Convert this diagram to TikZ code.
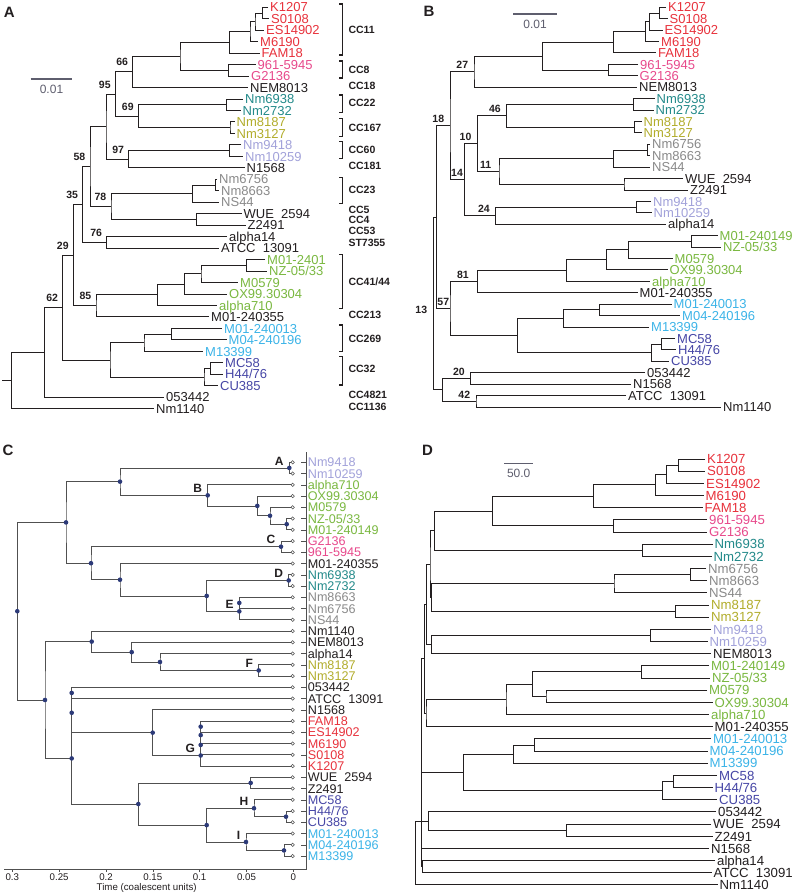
\documentclass[tikz,border=0pt]{standalone}
\usepackage{fontspec}
\setmainfont{Liberation Sans}
\usetikzlibrary{calc}
\definecolor{cR}{HTML}{E8323C}
\definecolor{cP}{HTML}{E84A8C}
\definecolor{cT}{HTML}{238A8A}
\definecolor{cO}{HTML}{B2AD2C}
\definecolor{cL}{HTML}{A2A2DA}
\definecolor{cG}{HTML}{8A8A8A}
\definecolor{cN}{HTML}{7AB840}
\definecolor{cB}{HTML}{3CB4E8}
\definecolor{cD}{HTML}{4646A6}
\definecolor{cK}{HTML}{231F20}
\definecolor{navy}{HTML}{2C3A78}
\definecolor{sgray}{HTML}{5E5E6E}
\definecolor{cgr}{HTML}{505050}
\newcommand\TLeaf[5]{\coordinate (#1) at (#2,{\yb+\ys*#3});\node[lab,text=#4] (#1t) at (#1) {#5};}
\newcommand\TNode[4]{\path let \p1=($(#3)!0.5!(#4)$) in coordinate (#1) at (#2pt,\y1);\draw[br] (#3) -| (#1) |- (#4);}
\newcommand\TBoot[3][]{\node[bs,#1] (#2b) at (#2) {#3};}
\newcommand\TBrk[2]{\draw[brk] (339.3,#1) -- (342.7,#1) -- (342.7,#2) -- (339.3,#2);}
\newcommand\TCC[3]{\node[ccl] (#1) at (348.3,#2) {#3};}
\begin{document}
\begin{tikzpicture}[x=1pt,y=-1pt,
  br/.style={line width=1pt,cK},
  lab/.style={anchor=west,inner sep=0pt,xshift=2pt,text height=9.3pt,text depth=0pt,font=\fontsize{13}{13}\selectfont},
  bsbase/.style={anchor=south east,inner sep=0pt,font=\fontsize{10.5}{10.5}\selectfont\bfseries,text=cK},
  bs/.style={bsbase,xshift=-4.5pt,yshift=5.7pt},
  ccl/.style={anchor=west,inner sep=0pt,text height=7.5pt,text depth=0pt,font=\fontsize{10.5}{10.5}\selectfont\bfseries,text=cK},
  brk/.style={line width=1.2pt,cK},
  pl/.style={font=\fontsize{15}{15}\selectfont\bfseries,inner sep=0pt,text=cK},
  sb/.style={line width=1.1pt,sgray},
  sbt/.style={font=\fontsize{12}{12}\selectfont,text=sgray,inner sep=0pt}]
\fill[white] (0,0) rectangle (800,896);
\useasboundingbox (0,0) rectangle (800,896);
% ================= Panel A =================
\begin{scope}
\def\yb{7.3}\def\ys{11.47}
\node[pl] (PA) at (9.2,12) {A};
\TLeaf{A0}{268}{0}{cR}{K1207}
\TLeaf{A1}{269}{1}{cR}{S0108}
\TLeaf{A2}{264}{2}{cR}{ES14902}
\TLeaf{A3}{258}{3}{cR}{M6190}
\TLeaf{A4}{259.5}{4}{cR}{FAM18}
\TLeaf{A5}{255.5}{5}{cP}{961-5945}
\TLeaf{A6}{249}{6}{cP}{G2136}
\TLeaf{A7}{248}{7}{cK}{NEM8013}
\TLeaf{A8}{243}{8}{cT}{Nm6938}
\TLeaf{A9}{240.5}{9}{cT}{Nm2732}
\TLeaf{A10}{234.5}{10}{cO}{Nm8187}
\TLeaf{A11}{234.5}{11}{cO}{Nm3127}
\TLeaf{A12}{241}{12}{cL}{Nm9418}
\TLeaf{A13}{243}{13}{cL}{Nm10259}
\TLeaf{A14}{244.5}{14}{cK}{N1568}
\TLeaf{A15}{217}{15}{cG}{Nm6756}
\TLeaf{A16}{219}{16}{cG}{Nm8663}
\TLeaf{A17}{219}{17}{cG}{NS44}
\TLeaf{A18}{241.5}{18}{cK}{WUE~~2594}
\TLeaf{A19}{245.5}{19}{cK}{Z2491}
\TLeaf{A20}{227}{20}{cK}{alpha14}
\TLeaf{A21}{219}{21}{cK}{ATCC~~13091}
\TLeaf{A22}{265}{22}{cN}{M01-2401}
\TLeaf{A23}{267}{23}{cN}{NZ-05/33}
\TLeaf{A24}{238}{24}{cN}{M0579}
\TLeaf{A25}{227}{25}{cN}{OX99.30304}
\TLeaf{A26}{217}{26}{cN}{alpha710}
\TLeaf{A27}{209}{27}{cK}{M01-240355}
\TLeaf{A28}{222}{28}{cB}{M01-240013}
\TLeaf{A29}{226.5}{29}{cB}{M04-240196}
\TLeaf{A30}{203}{30}{cB}{M13399}
\TLeaf{A31}{223}{31}{cD}{MC58}
\TLeaf{A32}{223}{32}{cD}{H44/76}
\TLeaf{A33}{218}{33}{cD}{CU385}
\TLeaf{A34}{164}{34}{cK}{053442}
\TLeaf{A35}{154}{35}{cK}{Nm1140}
\TNode{aK}{262.7}{A0}{A1}
\TNode{aKE}{255}{aK}{A2}
\TNode{aKM}{250}{aKE}{A3}
\TNode{aC11}{229.3}{aKM}{A4}
\TNode{aC8}{228.7}{A5}{A6}
\TNode{aHi}{180}{aC11}{aC8}
\TNode{aN66}{132.7}{aHi}{A7}
\TNode{aC22}{226.7}{A8}{A9}
\TNode{aC167}{230}{A10}{A11}
\TNode{aN69}{138.3}{aC22}{aC167}
\TNode{aN95}{115.3}{aN66}{aN69}
\TNode{aC60}{229.3}{A12}{A13}
\TNode{aN97}{128.7}{aC60}{A14}
\TNode{aU}{106}{aN95}{aN97}
\TNode{aC23i}{215.5}{A15}{A16}
\TNode{aC23}{192.3}{aC23i}{A17}
\TNode{aWZ}{196.7}{A18}{A19}
\TNode{aN78}{111}{aC23}{aWZ}
\TNode{aN58}{90}{aU}{aN78}
\TNode{aN76}{106.7}{A20}{A21}
\TNode{aN35}{82.7}{aN58}{aN76}
\TNode{aG1}{246.7}{A22}{A23}
\TNode{aG2}{201}{aG1}{A24}
\TNode{aG3}{184.3}{aG2}{A25}
\TNode{aG4}{157.3}{aG3}{A26}
\TNode{aN85}{96}{aG4}{A27}
\TNode{aN29}{73.3}{aN35}{aN85}
\TNode{aC269i}{171.7}{A28}{A29}
\TNode{aC269}{144}{aC269i}{A30}
\TNode{aC32i}{210.7}{A31}{A32}
\TNode{aC32}{204}{aC32i}{A33}
\TNode{aM}{110}{aC269}{aC32}
\TNode{aN62}{62.7}{aN29}{aM}
\TNode{aO}{44.3}{aN62}{A34}
\TNode{aR}{11.7}{aO}{A35}
\path (aR) ++(-10,0) coordinate (aS);
\draw[br] (aR) -- (aS);
\TBoot{aN66}{66}\TBoot{aN69}{69}\TBoot{aN95}{95}\TBoot{aN97}{97}
\TBoot{aN58}{58}\TBoot{aN78}{78}\TBoot{aN35}{35}\TBoot{aN76}{76}
\TBoot{aN85}{85}\TBoot{aN29}{29}\TBoot{aN62}{62}
\draw[sb] (30.7,79) coordinate (asL) -- (72.3,79) coordinate (asR);
\node[sbt] (asT) at (51.5,89.5) {0.01};
\TBrk{4}{55}\TBrk{61}{78}\TBrk{95}{112.7}\TBrk{118.3}{136.7}\TBrk{141.7}{158.3}
\TBrk{177.7}{203.3}\TBrk{254.3}{308.3}\TBrk{325}{351.7}\TBrk{356.7}{385}
\TCC{k1}{30}{CC11}\TCC{k2}{69.3}{CC8}\TCC{k3}{85.7}{CC18}\TCC{k4}{102.7}{CC22}
\TCC{k5}{127.3}{CC167}\TCC{k6}{149.3}{CC60}\TCC{k7}{165.7}{CC181}\TCC{k8}{190}{CC23}
\TCC{k9}{209.3}{CC5}\TCC{k10}{220}{CC4}\TCC{k11}{231}{CC53}\TCC{k12}{242.3}{ST7355}
\TCC{k13}{281.7}{CC41/44}\TCC{k14}{315}{CC213}\TCC{k15}{338.3}{CC269}\TCC{k16}{369}{CC32}
\TCC{k17}{394.3}{CC4821}\TCC{k18}{406.7}{CC1136}
\end{scope}
% ================= Panel B =================
\begin{scope}[bs/.style={bsbase,xshift=-5.7pt,yshift=3pt}]
\def\yb{7.3}\def\ys{11.42}
\node[pl] (PB) at (429,11.7) {B};
\TLeaf{B0}{666}{0}{cR}{K1207}
\TLeaf{B1}{667.5}{1}{cR}{S0108}
\TLeaf{B2}{662.5}{2}{cR}{ES14902}
\TLeaf{B3}{659}{3}{cR}{M6190}
\TLeaf{B4}{656}{4}{cR}{FAM18}
\TLeaf{B5}{638}{5}{cP}{961-5945}
\TLeaf{B6}{637.5}{6}{cP}{G2136}
\TLeaf{B7}{637}{7}{cK}{NEM8013}
\TLeaf{B8}{654.5}{8}{cT}{Nm6938}
\TLeaf{B9}{653.5}{9}{cT}{Nm2732}
\TLeaf{B10}{641.5}{10}{cO}{Nm8187}
\TLeaf{B11}{641.5}{11}{cO}{Nm3127}
\TLeaf{B12}{650}{12}{cG}{Nm6756}
\TLeaf{B13}{650}{13}{cG}{Nm8663}
\TLeaf{B14}{650}{14}{cG}{NS44}
\TLeaf{B15}{683}{15}{cK}{WUE~~2594}
\TLeaf{B16}{688}{16}{cK}{Z2491}
\TLeaf{B17}{651}{17}{cL}{Nm9418}
\TLeaf{B18}{651.5}{18}{cL}{Nm10259}
\TLeaf{B19}{666}{19}{cK}{alpha14}
\TLeaf{B20}{717.5}{20}{cN}{M01-240149}
\TLeaf{B21}{721}{21}{cN}{NZ-05/33}
\TLeaf{B22}{672.5}{22}{cN}{M0579}
\TLeaf{B23}{667.5}{23}{cN}{OX99.30304}
\TLeaf{B24}{650}{24}{cN}{alpha710}
\TLeaf{B25}{637.5}{25}{cK}{M01-240355}
\TLeaf{B26}{671.5}{26}{cB}{M01-240013}
\TLeaf{B27}{680}{27}{cB}{M04-240196}
\TLeaf{B28}{649}{28}{cB}{M13399}
\TLeaf{B29}{675}{29}{cD}{MC58}
\TLeaf{B30}{676}{30}{cD}{H44/76}
\TLeaf{B31}{669}{31}{cD}{CU385}
\TLeaf{B32}{645}{32}{cK}{053442}
\TLeaf{B33}{631}{33}{cK}{N1568}
\TLeaf{B34}{626}{34}{cK}{ATCC~~13091}
\TLeaf{B35}{721}{35}{cK}{Nm1140}
\TNode{bK}{659.3}{B0}{B1}
\TNode{bKE}{649.3}{bK}{B2}
\TNode{bKM}{645}{bKE}{B3}
\TNode{bC11}{613.3}{bKM}{B4}
\TNode{bC8}{608.3}{B5}{B6}
\TNode{bHi}{542.7}{bC11}{bC8}
\TNode{bN27}{474}{bHi}{B7}
\TNode{bC22}{633.3}{B8}{B9}
\TNode{bC167}{634.3}{B10}{B11}
\TNode{bN46}{506.7}{bC22}{bC167}
\TNode{bC23i}{647.7}{B12}{B13}
\TNode{bC23}{613.3}{bC23i}{B14}
\TNode{bWZ}{624}{B15}{B16}
\TNode{bN11}{499}{bC23}{bWZ}
\TNode{bN10}{477.3}{bN46}{bN11}
\TNode{bC60}{636}{B17}{B18}
\TNode{bN24}{495.7}{bC60}{B19}
\TNode{bN14}{464.3}{bN10}{bN24}
\TNode{bN18}{450}{bN27}{bN14}
\TNode{bG1}{691.7}{B20}{B21}
\TNode{bG2}{628.3}{bG1}{B22}
\TNode{bG3}{606.7}{bG2}{B23}
\TNode{bG4}{566.7}{bG3}{B24}
\TNode{bN81}{477.7}{bG4}{B25}
\TNode{bC269i}{599.3}{B26}{B27}
\TNode{bC269}{563.3}{bC269i}{B28}
\TNode{bC32i}{661}{B29}{B30}
\TNode{bC32}{651.7}{bC32i}{B31}
\TNode{bM}{517.7}{bC269}{bC32}
\TNode{bN57}{450}{bN81}{bM}
\TNode{bX}{436.7}{bN18}{bN57}
\TNode{bN20}{470.7}{B32}{B33}
\TNode{bN42}{476}{B34}{B35}
\TNode{bO}{442.3}{bN20}{bN42}
\TNode{bR}{433.3}{bX}{bO}
\TBoot{bN27}{27}\TBoot{bN46}{46}\TBoot{bN10}{10}\TBoot[xshift=-2pt]{bN11}{11}
\TBoot{bN24}{24}\TBoot[xshift=4.5pt]{bN14}{14}\TBoot{bN18}{18}\TBoot[xshift=-3pt]{bN81}{81}
\TBoot[xshift=5pt]{bN57}{57}\TBoot{bN20}{20}\TBoot{bN42}{42}
\node[bsbase,anchor=east] (bRb) at ([xshift=-6pt,yshift=-6.4pt]bR) {13};
\draw[sb] (513.3,14) coordinate (bsL) -- (556.7,14) coordinate (bsR);
\node[sbt] (bsT) at (535,24) {0.01};
\end{scope}
% ================= Panel C =================
\begin{scope}[br/.style={line width=0.75pt,cgr},
  lab/.style={anchor=west,inner sep=0pt,xshift=15pt,text height=9pt,text depth=0pt,font=\fontsize{12.6}{12.6}\selectfont},
  cl/.style={anchor=south east,inner sep=0pt,xshift=-5.5pt,yshift=2.5pt,font=\fontsize{12}{12}\selectfont\bfseries,text=cK},
  tk/.style={font=\fontsize{9.7}{9.7}\selectfont,text=cK,inner sep=0pt}]
\def\yb{462.3}\def\ys{11.25}
\node[pl] (PC) at (8,450.5) {C};
\TLeaf{C0}{292.7}{0}{cL}{Nm9418}
\TLeaf{C1}{292.7}{1}{cL}{Nm10259}
\TLeaf{C2}{292.7}{2}{cN}{alpha710}
\TLeaf{C3}{292.7}{3}{cN}{OX99.30304}
\TLeaf{C4}{292.7}{4}{cN}{M0579}
\TLeaf{C5}{292.7}{5}{cN}{NZ-05/33}
\TLeaf{C6}{292.7}{6}{cN}{M01-240149}
\TLeaf{C7}{292.7}{7}{cP}{G2136}
\TLeaf{C8}{292.7}{8}{cP}{961-5945}
\TLeaf{C9}{292.7}{9}{cK}{M01-240355}
\TLeaf{C10}{292.7}{10}{cT}{Nm6938}
\TLeaf{C11}{292.7}{11}{cT}{Nm2732}
\TLeaf{C12}{292.7}{12}{cG}{Nm8663}
\TLeaf{C13}{292.7}{13}{cG}{Nm6756}
\TLeaf{C14}{292.7}{14}{cG}{NS44}
\TLeaf{C15}{292.7}{15}{cK}{Nm1140}
\TLeaf{C16}{292.7}{16}{cK}{NEM8013}
\TLeaf{C17}{292.7}{17}{cK}{alpha14}
\TLeaf{C18}{292.7}{18}{cO}{Nm8187}
\TLeaf{C19}{292.7}{19}{cO}{Nm3127}
\TLeaf{C20}{292.7}{20}{cK}{053442}
\TLeaf{C21}{292.7}{21}{cK}{ATCC~~13091}
\TLeaf{C22}{292.7}{22}{cK}{N1568}
\TLeaf{C23}{292.7}{23}{cR}{FAM18}
\TLeaf{C24}{292.7}{24}{cR}{ES14902}
\TLeaf{C25}{292.7}{25}{cR}{M6190}
\TLeaf{C26}{292.7}{26}{cR}{S0108}
\TLeaf{C27}{292.7}{27}{cR}{K1207}
\TLeaf{C28}{292.7}{28}{cK}{WUE~~2594}
\TLeaf{C29}{292.7}{29}{cK}{Z2491}
\TLeaf{C30}{292.7}{30}{cD}{MC58}
\TLeaf{C31}{292.7}{31}{cD}{H44/76}
\TLeaf{C32}{292.7}{32}{cD}{CU385}
\TLeaf{C33}{292.7}{33}{cB}{M01-240013}
\TLeaf{C34}{292.7}{34}{cB}{M04-240196}
\TLeaf{C35}{292.7}{35}{cB}{M13399}
\TNode{cA}{289.3}{C0}{C1}
\TNode{cNZ}{286.7}{C5}{C6}
\TNode{cM0}{270}{C4}{cNZ}
\TNode{cOX}{257.3}{C3}{cM0}
\TNode{cB}{207.7}{C2}{cOX}
\TNode{cAB}{120}{cA}{cB}
\TNode{cC}{281}{C7}{C8}
\TNode{cD}{288.7}{C10}{C11}
\TNode{cEi}{239.3}{C12}{C13}
\TNode{cE}{239.3}{cEi}{C14}
\TNode{cDE}{206.7}{cD}{cE}
\TNode{cMD}{120}{C9}{cDE}
\TNode{cCM}{91}{cC}{cMD}
\TNode{cTop}{66}{cAB}{cCM}
\TNode{cF}{258.7}{C18}{C19}
\TNode{cF2}{160}{C17}{cF}
\TNode{cF3}{131.7}{C16}{cF2}
\TNode{cF4}{91.7}{C15}{cF3}
\TNode{c05}{71.7}{C20}{C21}
\TNode{cGa}{200.7}{C23}{C24}
\TNode{cGb}{200.7}{cGa}{C25}
\TNode{cGc}{200.7}{cGb}{C26}
\TNode{cG}{200.7}{cGc}{C27}
\TNode{cNG}{152.7}{C22}{cG}
\TNode{c05G}{71.7}{c05}{cNG}
\TNode{cWZ}{250.7}{C28}{C29}
\TNode{cHi}{286}{C31}{C32}
\TNode{cH}{254}{C30}{cHi}
\TNode{cIi}{284}{C34}{C35}
\TNode{cI}{246}{C33}{cIi}
\TNode{cHI}{206.7}{cH}{cI}
\TNode{cWHI}{138.3}{cWZ}{cHI}
\TNode{cLow}{71.7}{c05G}{cWHI}
\TNode{cBot}{45}{cF4}{cLow}
\TNode{cR}{17.3}{cTop}{cBot}
\foreach \nn in {cA,cNZ,cM0,cOX,cB,cAB,cC,cD,cEi,cE,cDE,cMD,cCM,cTop,cF,cF2,cF3,cF4,c05,cGa,cGb,cGc,cG,cNG,c05G,cWZ,cHi,cH,cIi,cI,cHI,cWHI,cLow,cBot,cR}
  \fill[navy] (\nn) circle (2.3);
\foreach \ii in {0,...,35}{
  \filldraw[fill=white,draw=cgr,line width=0.55pt] (C\ii) circle (1.7);
  \path (C\ii) ++(8.7,0) coordinate (Ck\ii) ++(4.6,0) coordinate (Cm\ii);
  \draw[cgr,line width=0.6pt] (Ck\ii) -- (Cm\ii);
}
\node[cl] (cAl) at (cA) {A};\node[cl] (cBl) at (cB) {B};\node[cl] (cCl) at (cC) {C};
\node[cl] (cDl) at (cD) {D};\node[cl] (cEl) at (cE) {E};\node[cl] (cFl) at (cF) {F};
\node[cl] (cGl) at (cG) {G};\node[cl] (cHl) at (cH) {H};\node[cl] (cIl) at (cI) {I};
\draw[cgr,line width=0.7pt] (306,452) coordinate (cx1) -- (306,869.3) coordinate (cx0) -- (4,869.3) coordinate (cx2);
\foreach \xx/\ll in {293.3/0,246.5/0.05,199.6/0.1,152.8/0.15,106/0.2,59.1/0.25,12.3/0.3}{
  \draw[cgr,line width=0.6pt] (\xx,869.3) -- (\xx,872);
  \node[tk,anchor=north] at (\xx,873.5) {\ll};
}
\node[tk] (ctitle) at (146.7,888.3) {Time (coalescent units)};
\end{scope}
% ================= Panel D =================
\begin{scope}[lab/.style={anchor=west,inner sep=0pt,xshift=2pt,text height=9.45pt,text depth=0pt,font=\fontsize{13.2}{13.2}\selectfont}]
\def\yb{459}\def\ys{12.17}
\node[pl] (PD) at (427.5,450.5) {D};
\TLeaf{D0}{705}{0}{cR}{K1207}
\TLeaf{D1}{705}{1}{cR}{S0108}
\TLeaf{D2}{704}{2}{cR}{ES14902}
\TLeaf{D3}{703.5}{3}{cR}{M6190}
\TLeaf{D4}{702.5}{4}{cR}{FAM18}
\TLeaf{D5}{707}{5}{cP}{961-5945}
\TLeaf{D6}{707}{6}{cP}{G2136}
\TLeaf{D7}{712.5}{7}{cT}{Nm6938}
\TLeaf{D8}{711.5}{8}{cT}{Nm2732}
\TLeaf{D9}{706}{9}{cG}{Nm6756}
\TLeaf{D10}{707}{10}{cG}{Nm8663}
\TLeaf{D11}{707}{11}{cG}{NS44}
\TLeaf{D12}{709}{12}{cO}{Nm8187}
\TLeaf{D13}{709}{13}{cO}{Nm3127}
\TLeaf{D14}{711}{14}{cL}{Nm9418}
\TLeaf{D15}{707.5}{15}{cL}{Nm10259}
\TLeaf{D16}{711}{16}{cK}{NEM8013}
\TLeaf{D17}{709}{17}{cN}{M01-240149}
\TLeaf{D18}{710}{18}{cN}{NZ-05/33}
\TLeaf{D19}{707}{19}{cN}{M0579}
\TLeaf{D20}{712.5}{20}{cN}{OX99.30304}
\TLeaf{D21}{709}{21}{cN}{alpha710}
\TLeaf{D22}{712.5}{22}{cK}{M01-240355}
\TLeaf{D23}{711}{23}{cB}{M01-240013}
\TLeaf{D24}{707.5}{24}{cB}{M04-240196}
\TLeaf{D25}{707.5}{25}{cB}{M13399}
\TLeaf{D26}{717}{26}{cD}{MC58}
\TLeaf{D27}{712.5}{27}{cD}{H44/76}
\TLeaf{D28}{717}{28}{cD}{CU385}
\TLeaf{D29}{716}{29}{cK}{053442}
\TLeaf{D30}{711}{30}{cK}{WUE~~2594}
\TLeaf{D31}{712.5}{31}{cK}{Z2491}
\TLeaf{D32}{709}{32}{cK}{N1568}
\TLeaf{D33}{715}{33}{cK}{alpha14}
\TLeaf{D34}{711.5}{34}{cK}{ATCC~~13091}
\TLeaf{D35}{717.5}{35}{cK}{Nm1140}
\TNode{dK}{678.3}{D0}{D1}
\TNode{dKE}{666}{dK}{D2}
\TNode{dKM}{655.7}{dKE}{D3}
\TNode{dC11}{593.3}{dKM}{D4}
\TNode{dC8}{613.3}{D5}{D6}
\TNode{dHi}{492.3}{dC11}{dC8}
\TNode{dC22}{642.3}{D7}{D8}
\TNode{dU1}{434.3}{dHi}{dC22}
\TNode{dC23i}{690}{D9}{D10}
\TNode{dC23}{614}{dC23i}{D11}
\TNode{dC167}{675.7}{D12}{D13}
\TNode{dU2}{431.7}{dC23}{dC167}
\TNode{dN1}{430}{dU1}{dU2}
\TNode{dC60}{650.7}{D14}{D15}
\TNode{dU3}{431.7}{dC60}{D16}
\TNode{dN2}{426.7}{dN1}{dU3}
\TNode{dG1}{641.7}{D17}{D18}
\TNode{dG2}{546}{D19}{D20}
\TNode{dG3}{532.7}{dG1}{dG2}
\TNode{dG4}{506}{dG3}{D21}
\TNode{dG5}{426}{dG4}{D22}
\TNode{dN3}{424.5}{dN2}{dG5}
\TNode{dC269i}{534.3}{D23}{D24}
\TNode{dC269}{513.3}{dC269i}{D25}
\TNode{dC32i}{673.3}{D26}{D27}
\TNode{dC32}{662.7}{dC32i}{D28}
\TNode{dM}{463.3}{dC269}{dC32}
\TNode{dWZ}{566.7}{D30}{D31}
\TNode{dO5}{428.3}{D29}{dWZ}
\TNode{dAA}{422.7}{D33}{D34}
\path let \p1=(dO5) in coordinate (dX) at (421.7pt,\y1);
\draw[br] (dN3) -| (dX) |- (dAA);
\draw[br] (dX) |- (dM);
\draw[br] (dX) |- (dO5);
\draw[br] (dX) |- (D32);
\TNode{dR}{415.7}{dX}{D35}
\draw[sb] (504.3,463.3) coordinate (dsL) -- (533.3,463.3) coordinate (dsR);
\node[sbt] (dsT) at (518.7,473.5) {50.0};
\end{scope}
\end{tikzpicture}
\end{document}
